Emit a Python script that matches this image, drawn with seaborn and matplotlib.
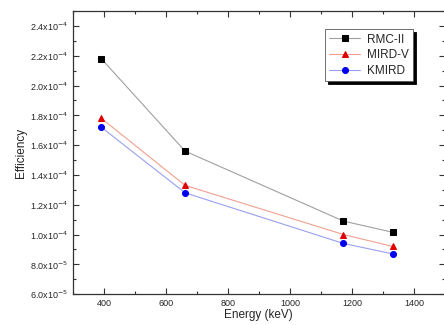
import numpy as np
import pandas as pd
import matplotlib
matplotlib.use('Agg')
import matplotlib.pyplot as plt
import seaborn as sns
from matplotlib.ticker import MultipleLocator, FuncFormatter

# data (efficiency values)
energy = [392, 662, 1173, 1332]
rmc_ii = [2.18e-4, 1.56e-4, 1.09e-4, 1.015e-4]
mird_v = [1.78e-4, 1.33e-4, 1.00e-4, 0.92e-4]
kmird = [1.72e-4, 1.28e-4, 0.94e-4, 0.87e-4]

series_names = ['RMC-II', 'MIRD-V', 'KMIRD']
series_vals = [rmc_ii, mird_v, kmird]

sns.set_style('ticks')
plt.rcParams['font.family'] = ['Liberation Sans', 'DejaVu Sans']

fig = plt.figure(figsize=(4.44, 3.25), dpi=100)
ax = fig.add_axes([0.164, 0.095, 0.838, 0.871])

# line colour is lighter than marker colour, like the original
styles = {
    'RMC-II': dict(line='#a0a0a0', mk='black', m='s', ms=4),
    'MIRD-V': dict(line='#f0a090', mk='#e00000', m='^', ms=4.8),
    'KMIRD': dict(line='#9aa0f0', mk='#0000ee', m='o', ms=4.3),
}
for name, vals in zip(series_names, series_vals):
    st = styles[name]
    df = pd.DataFrame({'Energy': energy, 'Efficiency': vals})
    sns.lineplot(data=df, x='Energy', y='Efficiency', ax=ax, color=st['line'],
                 linewidth=0.8, marker=st['m'], markersize=st['ms'],
                 markerfacecolor=st['mk'], markeredgecolor=st['mk'], label=name)

ax.set_xlim(300, 1500)
ax.set_ylim(6e-5, 2.5e-4)
ax.xaxis.set_major_locator(MultipleLocator(200))
ax.xaxis.set_minor_locator(MultipleLocator(100))
ax.yaxis.set_major_locator(MultipleLocator(2e-5))
ax.yaxis.set_minor_locator(MultipleLocator(1e-5))


def sci(v, pos):
    if v == 0:
        return '0'
    e = int(np.floor(np.log10(abs(v)) + 1e-9))
    m = v / 10 ** e
    return r'%.1fx10$^{%d}$' % (m, e)


ax.yaxis.set_major_formatter(FuncFormatter(sci))
ax.tick_params(which='both', direction='in', top=True, right=True, labelsize=6.5,
               width=0.8, color='#333333')
ax.tick_params(which='major', length=4)
ax.tick_params(which='minor', length=2)
for s in ax.spines.values():
    s.set_linewidth(0.9)
    s.set_color('#333333')

ax.set_xlabel('Energy (keV)', fontsize=8.5, labelpad=1)
ax.set_ylabel('Efficiency', fontsize=8.5, labelpad=2)

leg = ax.legend(loc='upper right', bbox_to_anchor=(0.915, 0.935), fontsize=8.5,
                frameon=True, fancybox=False, edgecolor='#555555',
                shadow={'color': 'black', 'alpha': 1}, handlelength=2.6,
                handletextpad=0.6, borderpad=0.35, labelspacing=0.3,
                borderaxespad=0)
leg.get_frame().set_linewidth(0.6)

fig.savefig('out.png', dpi=100)
